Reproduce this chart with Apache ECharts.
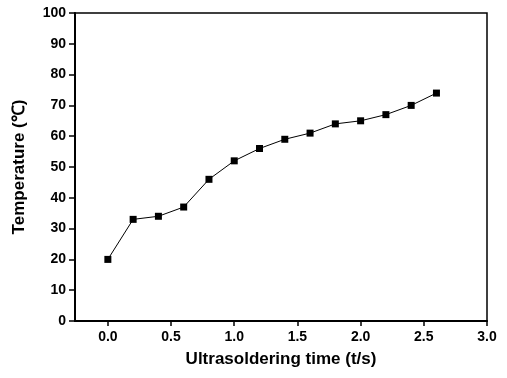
<!DOCTYPE html>
<html><head><meta charset="utf-8">
<script src="https://cdn.jsdelivr.net/npm/echarts@6/dist/echarts.min.js"></script>
<style>html,body{margin:0;padding:0;background:#fff}#c{width:507px;height:378px}</style>
</head><body><div id="c"></div>
<script>
const times = [0.0, 0.2, 0.4, 0.6, 0.8, 1.0, 1.2, 1.4, 1.6, 1.8, 2.0, 2.2, 2.4, 2.6];
const temps = [20, 33, 34, 37, 46, 52, 56, 59, 61, 64, 65, 67, 70, 74];
const xTicks = [0.0, 0.5, 1.0, 1.5, 2.0, 2.5, 3.0];
const xTitle = 'Ultrasoldering time (t/s)';
const yTitle = 'Temperature (\u2103)';

const chart = echarts.init(document.getElementById('c'), null, {renderer: 'canvas'});
const font = 'Liberation Sans, Arial, sans-serif';
chart.setOption({
  animation: false,
  backgroundColor: '#fff',
  grid: {left: 75, right: 20, top: 13, bottom: 57, show: true, borderColor: '#000', borderWidth: 1.5},
  xAxis: {
    type: 'value', min: -0.26, max: 3.0,
    axisLine: {show: true, onZero: false, lineStyle: {color: '#000', width: 2}},
    axisTick: {show: true, customValues: xTicks, length: 5, lineStyle: {color: '#000', width: 1.5}},
    axisLabel: {customValues: xTicks, formatter: v => v.toFixed(1), color: '#000', fontFamily: font, fontWeight: 'bold', fontSize: 14, margin: 9},
    splitLine: {show: false},
    name: xTitle, nameLocation: 'middle', nameGap: 30,
    nameTextStyle: {color: '#000', fontFamily: font, fontWeight: 'bold', fontSize: 17}
  },
  yAxis: {
    type: 'value', min: 0, max: 100, interval: 10,
    axisLine: {show: true, onZero: false, lineStyle: {color: '#000', width: 2}},
    axisTick: {show: true, length: 6, lineStyle: {color: '#000', width: 1.5}},
    axisLabel: {color: '#000', fontFamily: font, fontWeight: 'bold', fontSize: 14, margin: 9},
    splitLine: {show: false},
    name: yTitle, nameLocation: 'middle', nameGap: 47,
    nameTextStyle: {color: '#000', fontFamily: font, fontWeight: 'bold', fontSize: 17}
  },
  series: [{
    type: 'line',
    data: times.map((t, i) => [t, temps[i]]),
    symbol: 'rect', symbolSize: 7,
    itemStyle: {color: '#000'},
    lineStyle: {color: '#000', width: 1}
  }]
});
</script></body></html>
